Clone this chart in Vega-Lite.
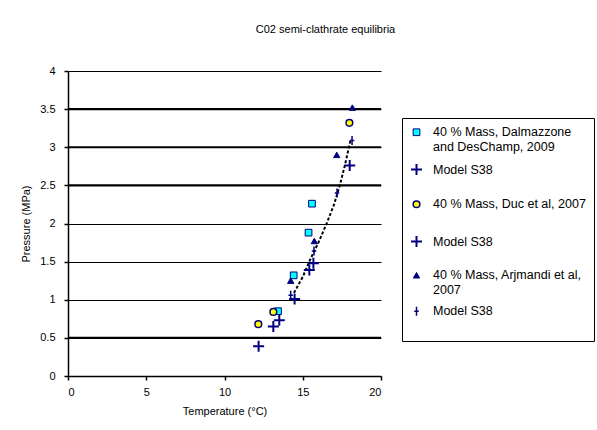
{
  "$schema": "https://vega.github.io/schema/vega-lite/v6.json",
  "width": 313,
  "height": 305,
  "autosize": {"type": "none"},
  "padding": {"left": 68, "top": 71, "right": 216, "bottom": 54},
  "background": "white",
  "config": {
    "font": "Liberation Sans",
    "view": {"stroke": null},
    "axis": {"labelColor": "black", "titleColor": "black", "titleFontWeight": "normal", "labelFontSize": 11, "titleFontSize": 11, "domainColor": "black", "tickColor": "black", "tickSize": 4, "domainWidth": 1.5, "tickWidth": 1.5, "labelOverlap": false}
  },
  "title": {"text": "C02 semi-clathrate equilibria", "fontSize": 11, "fontWeight": "normal", "color": "black", "anchor": "middle", "dx": 101, "offset": 30},
  "encoding": {
    "y": {"field": "P", "type": "quantitative", "scale": {"domain": [0, 4]},
      "axis": {"title": "Pressure (MPa)", "values": [0, 0.5, 1, 1.5, 2, 2.5, 3, 3.5, 4], "format": "~g", "grid": true, "gridColor": "black",
        "gridWidth": 1.2, "gridOpacity": 1, "labelPadding": 9, "titlePadding": 8, "labelOverlap": false}}
  },
  "layer": [
    {
      "data": {"values": [{"P": 0.5}, {"P": 2.5}, {"P": 3}, {"P": 3.5}]},
      "mark": {"type": "rule", "color": "black", "strokeWidth": 2.2},
      "encoding": {}
    },
    {
      "data": {"values": [
        {"T": 14.44, "P": 1.09},
        {"T": 15.0, "P": 1.3},
        {"T": 15.46, "P": 1.52},
        {"T": 16.0, "P": 1.75},
        {"T": 16.53, "P": 2.0},
        {"T": 17.0, "P": 2.25},
        {"T": 17.38, "P": 2.51},
        {"T": 17.7, "P": 2.77},
        {"T": 17.96, "P": 3.01},
        {"T": 18.06, "P": 3.1}
      ]},
      "mark": {"type": "line", "color": "black", "strokeDash": [3, 2], "strokeWidth": 2},
      "encoding": {
        "x": {"field": "T", "type": "quantitative", "scale": {"domain": [0, 20]},
          "axis": {"title": "Temperature (°C)", "values": [0, 5, 10, 15, 20], "grid": false, "labelPadding": 6, "titlePadding": 8}}
      }
    },
    {
      "data": {"values": [
        {"series": "a_dal", "T": 13.42, "P": 0.85},
        {"series": "a_dal", "T": 14.42, "P": 1.32},
        {"series": "a_dal", "T": 15.37, "P": 1.88},
        {"series": "a_dal", "T": 15.59, "P": 2.26},
        {"series": "c_duc", "T": 12.16, "P": 0.68},
        {"series": "c_duc", "T": 13.12, "P": 0.84},
        {"series": "c_duc", "T": 17.98, "P": 3.32},
        {"series": "e_arj", "T": 14.23, "P": 1.25},
        {"series": "e_arj", "T": 15.74, "P": 1.77},
        {"series": "e_arj", "T": 17.17, "P": 2.9},
        {"series": "e_arj", "T": 18.17, "P": 3.52},
        {"series": "b_mod1", "T": 13.5, "P": 0.73},
        {"series": "b_mod1", "T": 14.48, "P": 1.01},
        {"series": "b_mod1", "T": 15.42, "P": 1.39},
        {"series": "b_mod1", "T": 15.68, "P": 1.48},
        {"series": "d_mod2", "T": 12.18, "P": 0.39},
        {"series": "d_mod2", "T": 13.12, "P": 0.65},
        {"series": "d_mod2", "T": 18.0, "P": 2.76},
        {"series": "f_mod3", "T": 14.23, "P": 1.06},
        {"series": "f_mod3", "T": 15.72, "P": 1.64},
        {"series": "f_mod3", "T": 17.19, "P": 2.4},
        {"series": "f_mod3", "T": 18.15, "P": 3.09}
      ]},
      "mark": {"type": "point", "opacity": 1},
      "encoding": {
        "x": {"field": "T", "type": "quantitative"},
        "shape": {"field": "series", "type": "nominal",
          "scale": {"domain": ["a_dal", "b_mod1", "c_duc", "d_mod2", "e_arj", "f_mod3"],
            "range": ["square", "M-1,0L1,0M0,-1L0,1", "circle", "M-1,0L1,0M0,-1L0,1", "triangle-up", "M-0.5,0L0.5,0M0,-1L0,1"]},
          "legend": {
            "title": null, "orient": "none", "legendX": 334, "legendY": 47,
            "strokeColor": "black", "fillColor": "white", "padding": 8,
            "labelFontSize": 12.5, "labelColor": "black", "labelOffset": 10, "rowPadding": 6, "labelLimit": 400,
            "labelExpr": "datum.value == 'a_dal' ? ['40 % Mass, Dalmazzone', 'and DesChamp, 2009'] : datum.value == 'c_duc' ? ['40 % Mass, Duc et al, 2007', ''] : datum.value == 'e_arj' ? ['40 % Mass, Arjmandi et al,', '2007'] : ['Model S38', '']",
            "encode": {
              "labels": {"update": {"lineHeight": {"value": 14}, "dy": {"value": 7}}},
              "legend": {"update": {"strokeWidth": {"value": 1.5}}}
            }
          }},
        "fill": {"field": "series", "type": "nominal",
          "scale": {"domain": ["a_dal", "b_mod1", "c_duc", "d_mod2", "e_arj", "f_mod3"],
            "range": ["#00ffff", "transparent", "#ffff00", "transparent", "#000080", "transparent"]}},
        "stroke": {"field": "series", "type": "nominal",
          "scale": {"domain": ["a_dal", "b_mod1", "c_duc", "d_mod2", "e_arj", "f_mod3"],
            "range": ["#000080", "#000080", "#000080", "#000080", "#000080", "#000080"]}},
        "strokeWidth": {"field": "series", "type": "nominal",
          "scale": {"type": "ordinal", "domain": ["a_dal", "b_mod1", "c_duc", "d_mod2", "e_arj", "f_mod3"],
            "range": [1, 2, 1.5, 2, 1, 1.5]}},
        "size": {"field": "series", "type": "nominal",
          "scale": {"type": "ordinal", "domain": ["a_dal", "b_mod1", "c_duc", "d_mod2", "e_arj", "f_mod3"],
            "range": [45, 121, 45, 121, 40, 81]}}
      }
    }
  ]
}
